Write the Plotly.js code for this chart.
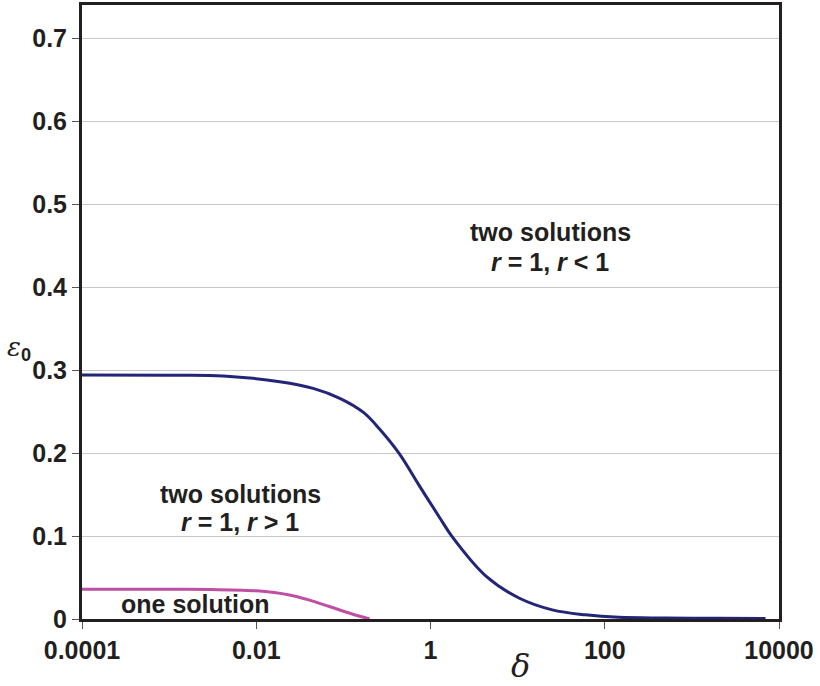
<!DOCTYPE html>
<html>
<head>
<meta charset="utf-8">
<script src="https://cdn.plot.ly/plotly-3.0.1.min.js"></script>
<style>html,body{margin:0;padding:0;background:#fff;}#chart{width:820px;height:686px;}</style>
</head>
<body>
<div id="chart"></div>
<script>
// Upper boundary (blue): delta vs epsilon0
const blueDelta = [0.0001, 0.001, 0.0042, 0.0186, 0.045, 0.091, 0.17, 0.26, 0.44, 0.74, 1.26, 1.78, 4.4, 10.5, 25, 60, 145, 500, 2000, 7000];
const blueEps   = [0.294, 0.2938, 0.293, 0.286, 0.278, 0.266, 0.249, 0.229, 0.199, 0.161, 0.123, 0.099, 0.051, 0.025, 0.011, 0.005, 0.002, 0.0012, 0.0008, 0.0006];
// Lower boundary (pink)
const pinkDelta = [0.0001, 0.001, 0.003, 0.01, 0.024, 0.04, 0.069, 0.126, 0.2];
const pinkEps   = [0.036, 0.036, 0.0355, 0.034, 0.029, 0.023, 0.015, 0.006, 0.0];
// Axis ticks
const xTickVals = [0.0001, 0.01, 1, 100, 10000];
const xTickText = ["0.0001", "0.01", "1", "100", "10000"];
const yTickVals = [0, 0.1, 0.2, 0.3, 0.4, 0.5, 0.6, 0.7];
const yTickText = ["0", "0.1", "0.2", "0.3", "0.4", "0.5", "0.6", "0.7"];

const ink = "#231f20";
const fontFam = "Liberation Sans, Arial, sans-serif";

const traces = [
  {x: blueDelta, y: blueEps, mode: "lines", line: {color: "#232576", width: 3, shape: "spline", smoothing: 1}, hoverinfo: "skip"},
  {x: pinkDelta, y: pinkEps, mode: "lines", line: {color: "#bf4fa3", width: 3, shape: "spline", smoothing: 0.8}, hoverinfo: "skip"}
];

// plot area in pixels: x 82..779, y 5..619
const px = v => (v - 82) / 697;
const py = v => (619 - v) / 614;
const txt = (x, y, t, size, fam) => ({xref: "paper", yref: "paper", x: px(x), y: py(y), text: t,
  showarrow: false, xanchor: "center", yanchor: "middle",
  font: {size: size, color: ink, family: fam || fontFam}});

const layout = {
  width: 820, height: 686,
  margin: {l: 82, r: 41, t: 5, b: 67},
  paper_bgcolor: "#fff", plot_bgcolor: "#fff",
  showlegend: false,
  font: {family: fontFam, color: ink, size: 25},
  xaxis: {
    type: "log", range: [-4, 4],
    tickvals: xTickVals, ticktext: xTickText,
    showgrid: false, zeroline: false,
    showline: true, mirror: true, linewidth: 3, linecolor: ink,
    ticks: "outside", ticklen: 7, tickwidth: 1, tickcolor: "#555",
    tickfont: {family: fontFam, size: 25, color: ink, weight: "bold"}
  },
  yaxis: {
    range: [0, 0.74],
    tickvals: yTickVals, ticktext: yTickText,
    showgrid: true, gridcolor: "#c8c8c8", gridwidth: 1, zeroline: false,
    showline: true, mirror: true, linewidth: 3, linecolor: ink,
    ticks: "outside", ticklen: 7, tickwidth: 1, tickcolor: "#555",
    tickfont: {family: fontFam, size: 25, color: ink, weight: "bold"}
  },
  annotations: [
    txt(550, 232, "<b>two solutions</b>", 25),
    txt(550, 262, "<b><i>r</i> = 1, <i>r</i> &lt; 1</b>", 25),
    txt(240, 494, "<b>two solutions</b>", 25),
    txt(240, 522, "<b><i>r</i> = 1, <i>r</i> &gt; 1</b>", 25),
    txt(195, 604, "<b>one solution</b>", 25),
    txt(19, 348, "<i>ε</i><sub><span style='font-family:Liberation Sans;font-weight:bold'>0</span></sub>", 26, "DejaVu Serif, serif"),
    txt(520, 666, "<i>δ</i>", 32, "DejaVu Serif, serif")
  ]
};

Plotly.newPlot("chart", traces, layout, {staticPlot: true, displayModeBar: false});
</script>
</body>
</html>
